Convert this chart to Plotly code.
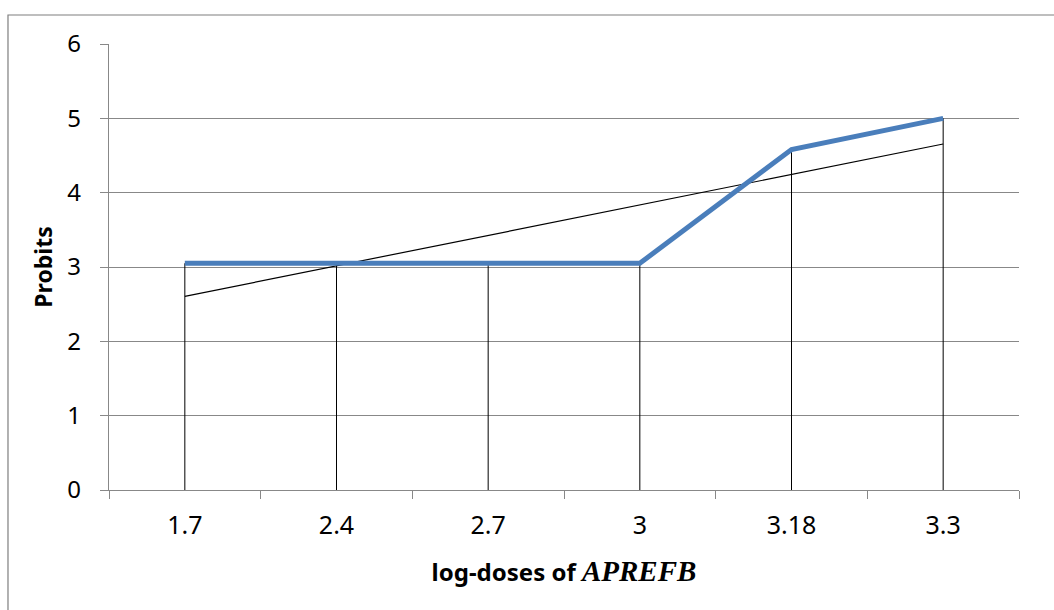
import plotly.graph_objects as go

# Probit analysis data
log_doses = ["1.7", "2.4", "2.7", "3", "3.18", "3.3"]
probits = [3.05, 3.05, 3.05, 3.05, 4.58, 5.0]
y_ticks = [0, 1, 2, 3, 4, 5, 6]

# Least-squares linear trend over the category positions
n = len(probits)
xs = list(range(1, n + 1))
mx = sum(xs) / n
my = sum(probits) / n
slope = sum((a - mx) * (b - my) for a, b in zip(xs, probits)) / sum((a - mx) ** 2 for a in xs)
trend = [my + slope * (a - mx) for a in xs]

FONT = "Noto Sans"
GRID = "#888888"

fig = go.Figure()

# Drop lines from each point down to the axis
fig.add_trace(go.Scatter(
    x=log_doses, y=probits, mode="markers",
    marker=dict(size=0.1, color="rgba(0,0,0,0)"),
    error_y=dict(type="data", symmetric=False, array=[0] * n, arrayminus=probits,
                 color="#000000", thickness=1, width=0),
    hoverinfo="skip", showlegend=False,
))

# Linear trendline
fig.add_trace(go.Scatter(
    x=log_doses, y=trend, mode="lines",
    line=dict(color="#000000", width=1.2),
    showlegend=False,
))

# Probit curve
fig.add_trace(go.Scatter(
    x=log_doses, y=probits, mode="lines",
    line=dict(color="#4A7EBB", width=5),
    showlegend=False,
))

fig.update_layout(
    width=1054, height=610,
    margin=dict(l=109, r=35, t=44, b=120),
    paper_bgcolor="white", plot_bgcolor="white",
    font=dict(family=FONT, size=22, color="#000000"),
    showlegend=False,
    shapes=[dict(type="rect", xref="paper", yref="paper",
                 x0=-0.111, x1=1.05, y0=-0.3, y1=1.065,
                 line=dict(color="#7f7f7f", width=1.2), layer="below")],
)

fig.update_xaxes(
    type="category",
    range=[-0.5, len(log_doses) - 0.5],
    tickson="boundaries",
    ticks="outside", ticklen=8, tickcolor=GRID, tickwidth=1,
    showline=True, linecolor=GRID, linewidth=1.2,
    showgrid=False, zeroline=False,
    ticklabelstandoff=13,
    tickfont=dict(family=FONT, size=25),
    title=dict(
        text="<b>log-doses of </b><b><i><span style='font-family:Liberation Serif;font-size:29px'>APREFB</span></i></b>",
        font=dict(family=FONT, size=24), standoff=24,
    ),
)

fig.update_yaxes(
    range=[0, 6], tickvals=y_ticks,
    ticks="outside", ticklen=8, tickcolor=GRID, tickwidth=1,
    showline=True, linecolor=GRID, linewidth=1.2,
    showgrid=True, gridcolor=GRID, gridwidth=1.2,
    zeroline=False,
    ticklabelstandoff=14,
    tickfont=dict(family=FONT, size=24),
    title=dict(text="<b>Probits</b>", font=dict(family=FONT, size=23), standoff=8),
)

fig.write_html("out.html")
